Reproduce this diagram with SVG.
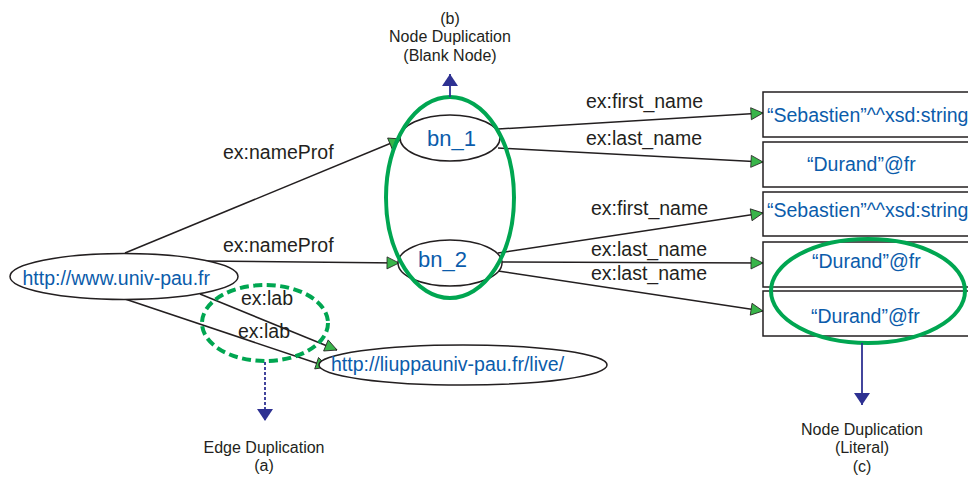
<svg xmlns="http://www.w3.org/2000/svg" width="968" height="477" viewBox="0 0 968 477">
<style>
  text { font-family: "Liberation Sans", Arial, sans-serif; }
  .lbl { font-size: 19.5px; fill: #231f20; }
  .val { font-size: 19.5px; fill: #0b5cab; }
  .bn { font-size: 22px; fill: #0b5cab; }
  .cap { font-size: 16px; fill: #231f20; text-anchor: middle; }
  .node { fill: #ffffff; stroke: #231f20; stroke-width: 1.5; }
  .edge { fill: none; stroke: #231f20; stroke-width: 1.5; marker-end: url(#tri); }
  .hl { fill: none; stroke: #00a651; stroke-width: 4; }
  .hld { fill: none; stroke: #00a651; stroke-width: 4; stroke-dasharray: 9 4.5; }
  .ptr { fill: none; stroke: #2e3192; stroke-width: 1.8; }
</style>
<defs>
  <marker id="tri" markerUnits="userSpaceOnUse" markerWidth="14" markerHeight="14" refX="12" refY="6" orient="auto" overflow="visible">
    <path d="M0,0 L12,6 L0,12 Z" fill="#39b54a" stroke="#231f20" stroke-width="0.8"/>
  </marker>
  <marker id="blue" markerUnits="userSpaceOnUse" markerWidth="17" markerHeight="17" refX="12" refY="8" orient="auto" overflow="visible">
    <path d="M0,0 L12,8 L0,16 Z" fill="#2e3192"/>
  </marker>
</defs>
<rect width="968" height="477" fill="#ffffff"/>

<g id="connectors">
  <path class="edge" d="M125,253 L401,139"/>
  <path class="edge" d="M200,261 L399,263"/>
  <path class="edge" d="M200,294 L337,350"/>
  <path class="edge" d="M125,299 L328,367"/>
  <path class="edge" d="M498,129 L763,113"/>
  <path class="edge" d="M498,148 L763,162"/>
  <path class="edge" d="M498,253 L763,213"/>
  <path class="edge" d="M502,262 L763,263"/>
  <path class="edge" d="M498,271 L763,311"/>
  <text class="lbl" x="223" y="159">ex:nameProf</text>
  <text class="lbl" x="223" y="252">ex:nameProf</text>
  <text class="lbl" x="241" y="305">ex:lab</text>
  <text class="lbl" x="238" y="338">ex:lab</text>
  <text class="lbl" x="586" y="108">ex:first_name</text>
  <text class="lbl" x="586" y="145">ex:last_name</text>
  <text class="lbl" x="591" y="215">ex:first_name</text>
  <text class="lbl" x="591" y="256">ex:last_name</text>
  <text class="lbl" x="591" y="280">ex:last_name</text>
</g>

<g id="n-univ">
  <ellipse class="node" cx="124" cy="276.5" rx="114" ry="23"/>
  <text class="val" x="22.5" y="285">http://www.univ-pau.fr</text>
</g>
<g id="n-liupp">
  <ellipse class="node" cx="463" cy="365" rx="144" ry="20"/>
  <text class="val" x="331" y="371">http://liuppauniv-pau.fr/live/</text>
</g>
<g id="n-bn1">
  <ellipse class="node" cx="450" cy="138" rx="50" ry="23"/>
  <text class="bn" x="427" y="146">bn_1</text>
</g>
<g id="n-bn2">
  <ellipse class="node" cx="450" cy="263" rx="52" ry="23"/>
  <text class="bn" x="418" y="267">bn_2</text>
</g>
<g id="n-lit1">
  <rect class="node" x="763" y="92" width="240" height="45"/>
  <text class="val" x="767" y="122">“Sebastien”^^xsd:string</text>
</g>
<g id="n-lit2">
  <rect class="node" x="763" y="142" width="240" height="45"/>
  <text class="val" x="807" y="171">“Durand”@fr</text>
</g>
<g id="n-lit3">
  <rect class="node" x="763" y="192" width="240" height="44"/>
  <text class="val" x="767" y="217">“Sebastien”^^xsd:string</text>
</g>
<g id="n-lit4">
  <rect class="node" x="763" y="242" width="240" height="45"/>
  <text class="val" x="812" y="268">“Durand”@fr</text>
</g>
<g id="n-lit5">
  <rect class="node" x="763" y="291" width="240" height="45"/>
  <text class="val" x="811" y="323">“Durand”@fr</text>
</g>

<g id="highlights">
  <ellipse class="hl" cx="450" cy="197.5" rx="64" ry="100.5"/>
  <ellipse class="hld" cx="265" cy="323" rx="63" ry="38"/>
  <ellipse class="hl" cx="868" cy="291" rx="97" ry="52"/>
</g>

<g id="ann-b">
  <path class="ptr" d="M450,97 L450,74" marker-end="url(#blue)"/>
  <text class="cap" x="450" y="24">(b)</text>
  <text class="cap" x="450" y="42">Node Duplication</text>
  <text class="cap" x="450" y="61">(Blank Node)</text>
</g>
<g id="ann-a">
  <path class="ptr" d="M265,362 L265,421" stroke-dasharray="3 2" stroke-width="1.5" marker-end="url(#blue)"/>
  <text class="cap" x="264" y="453">Edge Duplication</text>
  <text class="cap" x="264" y="471">(a)</text>
</g>
<g id="ann-c">
  <path class="ptr" d="M862,343 L862,405" marker-end="url(#blue)"/>
  <text class="cap" x="862" y="435">Node Duplication</text>
  <text class="cap" x="862" y="453">(Literal)</text>
  <text class="cap" x="862" y="472">(c)</text>
</g>
</svg>
